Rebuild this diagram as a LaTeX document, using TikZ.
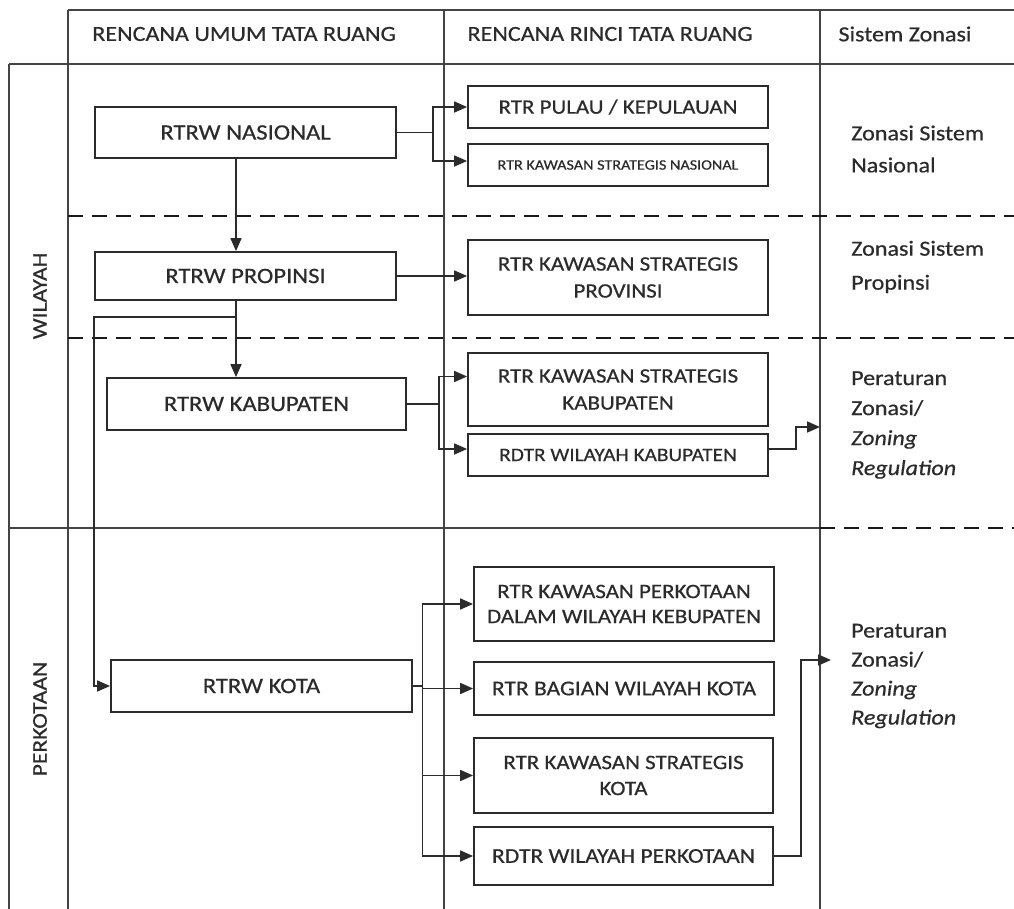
\documentclass[tikz,border=0pt]{standalone}
\usepackage{fontspec}
\setmainfont[FakeStretch=1.12,FakeBold=0.5]{Carlito}
\usetikzlibrary{arrows.meta,calc}
\definecolor{ink}{HTML}{2B2B2B}
\definecolor{rulec}{HTML}{444444}
\begin{document}
\begin{tikzpicture}[x=1pt,y=-1pt,
  frame/.style={draw=rulec,line width=1.6pt},
  dashline/.style={draw=black!90,line width=2.6pt,dash pattern=on 15pt off 9pt},
  box/.style={draw=ink,line width=1.8pt,inner sep=2pt,align=center,text=ink,font=\fontsize{20.5}{27}\selectfont},
  lbox/.style={box,font=\fontsize{22}{27}\selectfont},
  conn/.style={draw=ink,line width=1.7pt},
  arr/.style={conn,-{Triangle[length=13pt,width=11pt]}},
  head/.style={text=ink,font=\fontsize{21.5}{26}\selectfont,inner sep=0pt},
  zon/.style={text=ink,anchor=west,align=left,inner sep=0pt},
  side/.style={text=ink,rotate=90,font=\fontsize{21}{24}\selectfont,inner sep=0pt}
]
\useasboundingbox[fill=white] (0,0) rectangle (1014,909);

% table frame
\draw[frame] (68,10) -- (1014,10);
\draw[frame] (9,64) -- (1014,64);
\draw[frame] (9,64) -- (9,909);
\draw[frame] (68,10) -- (68,909);
\draw[frame] (444,10) -- (444,909);
\draw[frame] (820,10) -- (820,909);
\draw[frame] (9,528) -- (820,528);
\draw[dashline] (68,216) -- (1014,216);
\draw[dashline] (68,338) -- (1014,338);
\draw[dashline] (820,528) -- (1014,528);

% headers
\node[head] (h1) at (244,34) {RENCANA UMUM TATA RUANG};
\node[head] (h2) at (610,34) {RENCANA RINCI TATA RUANG};
\node[head] (h3) at (905,34) {Sistem Zonasi};
\node[side] (wil) at (40,296) {WILAYAH};
\node[side] (kot) at (40,719) {PERKOTAAN};

% left column boxes
\node[lbox,minimum width=301pt,minimum height=51pt] (nas) at (245.5,132.5) {RTRW NASIONAL};
\node[lbox,minimum width=301pt,minimum height=48pt] (prop) at (245.5,276) {RTRW PROPINSI};
\node[lbox,minimum width=299pt,minimum height=52pt] (kab) at (256.5,404) {RTRW KABUPATEN};
\node[lbox,minimum width=301pt,minimum height=52pt] (kota) at (261.5,686) {RTRW KOTA};

% middle column boxes
\node[box,minimum width=300pt,minimum height=42pt] (pulau) at (618,107) {RTR PULAU / KEPULAUAN};
\node[box,minimum width=300pt,minimum height=42pt,font=\fontsize{14.4}{16}\selectfont] (ksn) at (618,165) {RTR KAWASAN STRATEGIS NASIONAL};
\node[box,minimum width=300pt,minimum height=75pt] (ksp) at (618,277.5) {RTR KAWASAN STRATEGIS\\PROVINSI};
\node[box,minimum width=300pt,minimum height=73pt] (ksk) at (618,389.5) {RTR KAWASAN STRATEGIS\\KABUPATEN};
\node[box,minimum width=300pt,minimum height=42pt,font=\fontsize{19}{22}\selectfont] (rdtrk) at (618,455) {RDTR WILAYAH KABUPATEN};
\node[box,minimum width=300pt,minimum height=74pt,font=\fontsize{20.5}{25}\selectfont] (kpd) at (624,604) {RTR KAWASAN PERKOTAAN\\DALAM WILAYAH KEBUPATEN};
\node[box,minimum width=300pt,minimum height=53pt,font=\fontsize{21}{25}\selectfont] (bwk) at (624,688.5) {RTR BAGIAN WILAYAH KOTA};
\node[box,minimum width=299pt,minimum height=75pt,font=\fontsize{20.5}{26}\selectfont] (ksko) at (623.5,775.5) {RTR KAWASAN STRATEGIS\\KOTA};
\node[box,minimum width=299pt,minimum height=58pt,font=\fontsize{21}{25}\selectfont] (rdtrp) at (623.5,856) {RDTR WILAYAH PERKOTAAN};

% right column text
\node[zon,font=\fontsize{21.5}{32}\selectfont] (z1t) at (851,149) {Zonasi Sistem\\Nasional};
\node[zon,font=\fontsize{21.5}{34}\selectfont] (z2t) at (851,267) {Zonasi Sistem\\Propinsi};
\node[zon,font=\fontsize{21.5}{30}\selectfont] (z3t) at (851,425) {Peraturan\\Zonasi/\\\textit{Zoning}\\\textit{Regulation}};
\node[zon,font=\fontsize{21.5}{29}\selectfont] (z4t) at (851,676) {Peraturan\\Zonasi/\\\textit{Zoning}\\\textit{Regulation}};

% connectors
\coordinate (f1) at ($(nas.east)+(36,0)$);
\draw[conn] (nas.east) -- (f1);
\draw[arr] (f1) |- (pulau.west);
\draw[arr] (f1) |- ([yshift=4pt]ksn.west);

\draw[arr] ([xshift=-9.5pt]nas.south) -- ([xshift=-9.5pt]prop.north);
\draw[arr] (prop.east) -- (prop.east -| ksp.west);

\coordinate (b0) at ([xshift=-9.5pt]prop.south);
\draw[arr] (b0) -- (b0 |- kab.north);
\coordinate (b1) at ($(prop.south)+(-9.5,16)$);
\draw[arr] (b1) -- (b1 -| nas.west) |- (kota.west);

\coordinate (f2) at ($(kab.east)+(32,0)$);
\draw[conn] (kab.east) -- (f2);
\draw[arr] (f2) |- ([yshift=13pt]ksk.west);
\draw[arr] (f2) |- ([yshift=6pt]rdtrk.west);

\coordinate (zk) at (820,427);
\draw[arr] ([yshift=6pt]rdtrk.east) -- ++(27,0) |- (zk);

\coordinate (f3) at ($(kota.east)+(9.5,0)$);
\draw[conn] (kota.east) -- (f3);
\draw[arr] (f3) |- (kpd.west);
\draw[arr] (f3) |- (bwk.west);
\draw[arr] (f3) |- (ksko.west);
\draw[arr] (f3) |- (rdtrp.west);

\coordinate (zp) at (831,660);
\draw[arr] (rdtrp.east) -- ++(27,0) |- (zp);
\end{tikzpicture}
\end{document}
